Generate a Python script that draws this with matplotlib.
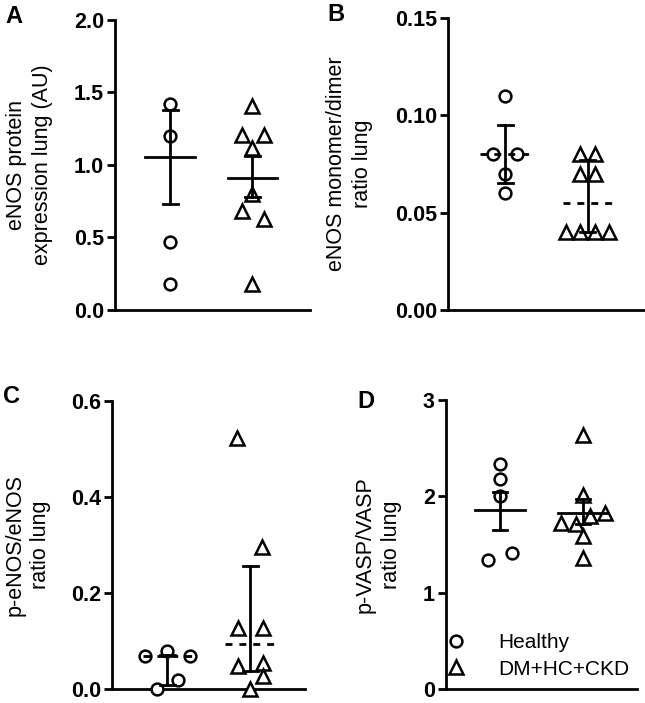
import matplotlib
matplotlib.use("Agg")
import matplotlib.pyplot as plt
from matplotlib.lines import Line2D

plt.rcParams['font.family'] = ['Liberation Sans', 'DejaVu Sans']

groups = ['Healthy', 'DM+HC+CKD']

# panel A: eNOS protein expression (mean +/- SEM)
a_healthy = [1.42, 1.20, 0.47, 0.18]
a_dm = [1.41, 1.21, 1.21, 1.12, 0.80, 0.68, 0.63, 0.18]
a_center = [1.057, 0.912]
a_low = [0.73, 0.78]
a_high = [1.38, 1.06]

# panel B: monomer/dimer ratio (median, IQR)
b_healthy = [0.110, 0.080, 0.080, 0.070, 0.060]
b_dm = [0.080, 0.080, 0.070, 0.070, 0.040, 0.040, 0.040, 0.040]
b_center = [0.080, 0.0552]
b_low = [0.065, 0.040]
b_high = [0.095, 0.0772]

# panel C: p-eNOS/eNOS (median, IQR)
c_healthy = [0.068, 0.079, 0.068, 0.019, 0.001]
c_dm = [0.522, 0.296, 0.128, 0.128, 0.048, 0.055, 0.028, 0.0]
c_center = [0.068, 0.0947]
c_low = [0.009, 0.038]
c_high = [0.071, 0.256]

# panel D: p-VASP/VASP (mean +/- SEM)
d_healthy = [2.337, 2.176, 2.003, 1.344, 1.414]
d_dm = [2.64, 2.01, 1.724, 1.71, 1.793, 1.827, 1.586, 1.355]
d_center = [1.855, 1.83]
d_low = [1.655, 1.717]
d_high = [2.04, 1.975]

# horizontal scatter offsets (layout only)
jit = {
    'A': ([0, 0, 0, 0], [0, -0.13, 0.14, 0, 0, -0.13, 0.14, 0]),
    'B': ([0, -0.145, 0.145, 0, 0], [-0.09, 0.09, -0.09, 0.09, -0.26, -0.09, 0.09, 0.26]),
    'C': ([-0.27, 0, 0.27, 0.13, -0.13], [-0.16, 0.14, -0.15, 0.15, -0.15, 0.15, 0.15, 0]),
    'D': ([0, 0, 0, -0.15, 0.14], [0, 0, -0.26, -0.09, 0.09, 0.26, 0, 0]),
}

W, H = 645, 703
fig = plt.figure(figsize=(W / 100, H / 100), dpi=100)


def rect(l, t, r, b):
    return [l / W, 1 - b / H, (r - l) / W, (b - t) / H]


panels = [
    dict(key='A', rect=rect(115, 20, 310, 310), xlim=(0.33, 2.7), ylim=(0, 2.0),
         ticks=[0.0, 0.5, 1.0, 1.5, 2.0], fmt='{:.1f}',
         label='eNOS protein\nexpression lung (AU)', lx=-0.44,
         data=(a_healthy, a_dm), stats=(a_center, a_low, a_high), median=False,
         letter=(5, 5)),
    dict(key='B', rect=rect(448, 18, 645, 310), xlim=(0.31, 2.69), ylim=(0, 0.15),
         ticks=[0.0, 0.05, 0.10, 0.15], fmt='{:.2f}',
         label='eNOS monomer/dimer\nratio lung', lx=-0.50,
         data=(b_healthy, b_dm), stats=(b_center, b_low, b_high), median=True,
         letter=(327, 3)),
    dict(key='C', rect=rect(112, 401, 305, 689), xlim=(0.33, 2.66), ylim=(0, 0.6),
         ticks=[0.0, 0.2, 0.4, 0.6], fmt='{:.1f}',
         label='p-eNOS/eNOS\nratio lung', lx=-0.435,
         data=(c_healthy, c_dm), stats=(c_center, c_low, c_high), median=True,
         letter=(3, 385)),
    dict(key='D', rect=rect(446, 400, 637, 689), xlim=(0.35, 2.65), ylim=(0, 3),
         ticks=[0, 1, 2, 3], fmt='{:.0f}',
         label='p-VASP/VASP\nratio lung', lx=-0.355,
         data=(d_healthy, d_dm), stats=(d_center, d_low, d_high), median=False,
         letter=(357, 390)),
]

markers = ['o', '^']
msizes = [8.5, 9.5]

for p in panels:
    ax = fig.add_axes(p['rect'])
    center, low, high = p['stats']
    for i, vals in enumerate(p['data']):
        x0 = i + 1
        xs = [x0 + dx for dx in jit[p['key']][i]]
        ax.plot(xs, vals, linestyle='none', marker=markers[i], ms=msizes[i],
                mfc='white', mec='black', mew=1.8, zorder=3, clip_on=False)
        ls = (0, (2.5, 2.5)) if p['median'] else '-'
        ax.plot([x0 - 0.3, x0 + 0.3], [center[i], center[i]], color='black',
                lw=2, ls=ls, zorder=4)
        ax.plot([x0, x0], [low[i], high[i]], color='black', lw=2, zorder=4)
        for y in (low[i], high[i]):
            ax.plot([x0 - 0.09, x0 + 0.09], [y, y], color='black', lw=2, zorder=4)

    ax.set_xlim(*p['xlim'])
    ax.set_ylim(*p['ylim'])
    ax.set_yticks(p['ticks'])
    ax.set_yticklabels([p['fmt'].format(t) for t in p['ticks']],
                       fontsize=15.5, fontweight='bold')
    ax.set_xticks([])
    for s in ('top', 'right'):
        ax.spines[s].set_visible(False)
    for s in ('left', 'bottom'):
        ax.spines[s].set_linewidth(2)
    ax.tick_params(axis='y', length=6, width=2, pad=2)
    ax.set_ylabel(p['label'], fontsize=15.5, linespacing=1.3, va='center')
    ax.yaxis.set_label_coords(p['lx'], 0.5)
    lx, ly = p['letter']
    fig.text(lx / W, 1 - ly / H, p['key'], fontsize=17, fontweight='bold',
             ha='left', va='top')

    if p['key'] == 'D':
        handles = [Line2D([], [], ls='none', marker=markers[k], ms=msizes[k],
                          mfc='white', mec='black', mew=1.8) for k in range(2)]
        ax.legend(handles, groups, loc='lower left', frameon=False, fontsize=15,
                  handlelength=1.0, handletextpad=1.5, labelspacing=0.35,
                  borderaxespad=0.1, bbox_to_anchor=(-0.055, 0.0))

fig.savefig('out.png', dpi=100)
